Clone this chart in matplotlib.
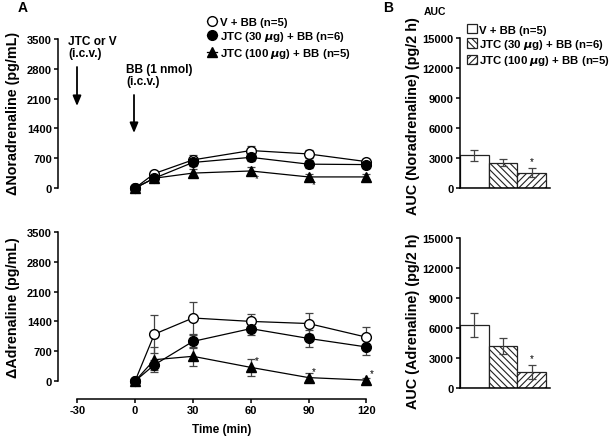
import matplotlib
matplotlib.use("Agg")
import matplotlib.pyplot as plt
from matplotlib.patches import Patch

plt.rcParams['font.family'] = ['Liberation Sans', 'DejaVu Sans']
plt.rcParams['font.weight'] = 'bold'
plt.rcParams['axes.labelweight'] = 'bold'
plt.rcParams['hatch.linewidth'] = 0.8
plt.rcParams['axes.unicode_minus'] = False

W, H = 609, 439

# ---------------- data ----------------
time = [0, 10, 30, 60, 90, 120]
groups = ["V + BB (n=5)", "JTC (30 $\\mu$g) + BB (n=6)", "JTC (100 $\\mu$g) + BB (n=5)"]

na_v = [0, 340, 660, 880, 800, 620]
na_v_err = [40, 60, 120, 110, 100, 60]
na_30 = [0, 230, 600, 720, 560, 550]
na_30_err = [30, 40, 80, 80, 100, 80]
na_100 = [0, 230, 350, 400, 260, 260]
na_100_err = [30, 40, 90, 100, 60, 60]
na_star_idx = [3, 4]

ad_v = [0, 1100, 1480, 1400, 1350, 1030]
ad_v_err = [40, 450, 370, 170, 250, 230]
ad_30 = [0, 380, 930, 1230, 1000, 800]
ad_30_err = [40, 120, 150, 160, 200, 200]
ad_100 = [0, 500, 580, 320, 80, 20]
ad_100_err = [40, 300, 230, 200, 100, 40]
ad_star_idx = [3, 4, 5]

auc_na = [3300, 2550, 1550]
auc_na_err = [550, 350, 450]
auc_ad = [6300, 4250, 1600]
auc_ad_err = [1200, 800, 700]
auc_star_idx = [2]

line_yticks = [0, 700, 1400, 2100, 2800, 3500]
bar_yticks = [0, 3000, 6000, 9000, 12000, 15000]
time_ticks = [-30, 0, 30, 60, 90, 120]

# ---------------- figure ----------------
fig = plt.figure(figsize=(W / 100, H / 100), dpi=100)


def px_axes(left, top, right, bottom):
    return fig.add_axes([left / W, 1 - bottom / H, (right - left) / W, (bottom - top) / H])


styles = [dict(marker='o', mfc='white', mec='black', ms=7, mew=1.0),
          dict(marker='o', mfc='black', mec='black', ms=7, mew=1.0),
          dict(marker='^', mfc='black', mec='black', ms=7, mew=1.0)]

TS = 8.0    # tick font size
LS = 8.5    # x label size
LEG = 8.2   # legend size
ANN = 8.6   # annotation size
YL = 10.3   # line y label size
BL = 10.4   # bar y label size


def style_axes(ax):
    for s in ['top', 'right']:
        ax.spines[s].set_visible(False)
    ax.spines['left'].set_linewidth(1.1)
    ax.spines['bottom'].set_linewidth(1.1)
    ax.tick_params(direction='out', length=3, width=1.1, pad=1.5, labelsize=TS)
    for lab in ax.get_xticklabels() + ax.get_yticklabels():
        lab.set_fontweight('bold')


def line_panel(ax, series, errs, stars, star_dy):
    handles = []
    for k, (y, e) in enumerate(zip(series, errs)):
        ax.errorbar(time, y, yerr=e, fmt='none', ecolor='#444444', elinewidth=0.9,
                    capsize=3, capthick=0.9, clip_on=False, zorder=2)
        h, = ax.plot(time, y, color='black', lw=0.9, clip_on=False, zorder=3 + k, **styles[k])
        handles.append(h)
    tri = series[2]
    for i in stars:
        ax.annotate('*', (time[i], tri[i]), xytext=(4, star_dy), textcoords='offset points',
                    ha='center', va='center', fontsize=7, fontweight='normal')
    ax.set_xlim(-40, 125)
    ax.set_yticks(line_yticks)
    ax.spines['left'].set_bounds(0, 3500)
    return handles


# top line panel (noradrenaline)
ax1 = px_axes(58, 40, 376, 189)
h = line_panel(ax1, [na_v, na_30, na_100], [na_v_err, na_30_err, na_100_err], na_star_idx, -5)
ax1.set_ylim(0, 3500)
ax1.spines['bottom'].set_visible(False)
ax1.set_xticks([])
style_axes(ax1)
ax1.set_ylabel('ΔNoradrenaline (pg/mL)', fontsize=YL, fontweight='bold')
ax1.yaxis.set_label_coords((20 - 58) / 318, (189 - 113) / 149)

# bottom line panel (adrenaline)
ax2 = px_axes(58, 233, 376, 400)
line_panel(ax2, [ad_v, ad_30, ad_100], [ad_v_err, ad_30_err, ad_100_err], ad_star_idx, 5)
ax2.set_ylim(-3500 * 18 / 149, 3500)
ax2.set_xticks(time_ticks)
ax2.spines['bottom'].set_bounds(-30, 120)
style_axes(ax2)
ax2.set_ylabel('ΔAdrenaline (pg/mL)', fontsize=YL, fontweight='bold')
ax2.yaxis.set_label_coords((20 - 58) / 318, (400 - 307.5) / 167)
ax2.set_xlabel('Time (min)', fontsize=LS, fontweight='bold')
ax2.xaxis.set_label_coords((222 - 58) / 318, (400 - 424) / 167)

# legend A
fig.legend(h, groups, loc='upper left', bbox_to_anchor=(207 / W, 1 - 18 / H),
           frameon=False, handlelength=0.85, handletextpad=0.3,
           labelspacing=0.2, borderaxespad=0, borderpad=0,
           prop=dict(weight='bold', size=LEG))

# bar panels
bar_x = [0, 1, 2]
hatches = ['', '\\\\\\\\\\', '/////']


def bar_panel(ax, vals, errs):
    bars = ax.bar(bar_x, vals, width=1.0, color='white', edgecolor='#222222', lw=0.9,
                  zorder=2)
    for b, hp in zip(bars, hatches):
        b.set_hatch(hp)
    ax.errorbar(bar_x, vals, yerr=errs, fmt='none', ecolor='#444444', elinewidth=0.9,
                capsize=3, capthick=0.9, zorder=3)
    for i in auc_star_idx:
        ax.annotate('*', (bar_x[i], vals[i] + errs[i]), xytext=(0, 5), textcoords='offset points',
                    ha='center', va='center', fontsize=7, fontweight='normal')
    ax.set_xlim(-0.5, 2.64)
    ax.set_ylim(0, 15000)
    ax.set_yticks(bar_yticks)
    ax.set_xticks([])
    style_axes(ax)
    return bars


ax3 = px_axes(460, 39, 550, 189)
bar_panel(ax3, auc_na, auc_na_err)
ax3.set_ylabel('AUC (Noradrenaline) (pg/2 h)', fontsize=BL, fontweight='bold')
ax3.yaxis.set_label_coords((420 - 460) / 90, (189 - 116.5) / 150)

ax4 = px_axes(460, 239, 550, 389)
bar_panel(ax4, auc_ad, auc_ad_err)
ax4.set_ylabel('AUC (Adrenaline) (pg/2 h)', fontsize=BL, fontweight='bold')
ax4.yaxis.set_label_coords((420 - 460) / 90, (389 - 321.5) / 150)

patch_handles = [Patch(facecolor='white', edgecolor='#222222', hatch=hp, lw=0.9) for hp in hatches]
fig.legend(patch_handles, groups, loc='upper left', bbox_to_anchor=(467 / W, 1 - 25 / H),
           frameon=False, handlelength=0.9, handleheight=0.9, handletextpad=0.15,
           labelspacing=0.2, borderaxespad=0, borderpad=0,
           prop=dict(weight='bold', size=LEG))

# annotations
ov = fig.add_axes([0, 0, 1, 1], facecolor='none')
ov.set_xlim(0, W)
ov.set_ylim(H, 0)
ov.axis('off')
ov.text(23, 8, 'A', fontsize=10, fontweight='bold', va='center', ha='center')
ov.text(388, 8, 'B', fontsize=10, fontweight='bold', va='center', ha='center')
ov.text(424, 12, 'AUC', fontsize=7.5, fontweight='bold', va='center')
ov.text(68, 36, 'JTC or V\n(i.c.v.)', fontsize=ANN, fontweight='bold', va='top', linespacing=1.05)
ov.text(126, 64, 'BB (1 nmol)\n(i.c.v.)', fontsize=ANN, fontweight='bold', va='top', linespacing=1.05)
arrow = dict(arrowstyle='-|>,head_length=0.6,head_width=0.25', color='black', lw=1.3,
             shrinkA=0, shrinkB=0)
ov.annotate('', xy=(77, 107), xytext=(77, 68), arrowprops=arrow)
ov.annotate('', xy=(134, 134), xytext=(134, 96), arrowprops=arrow)

fig.savefig('out.png', dpi=100)
